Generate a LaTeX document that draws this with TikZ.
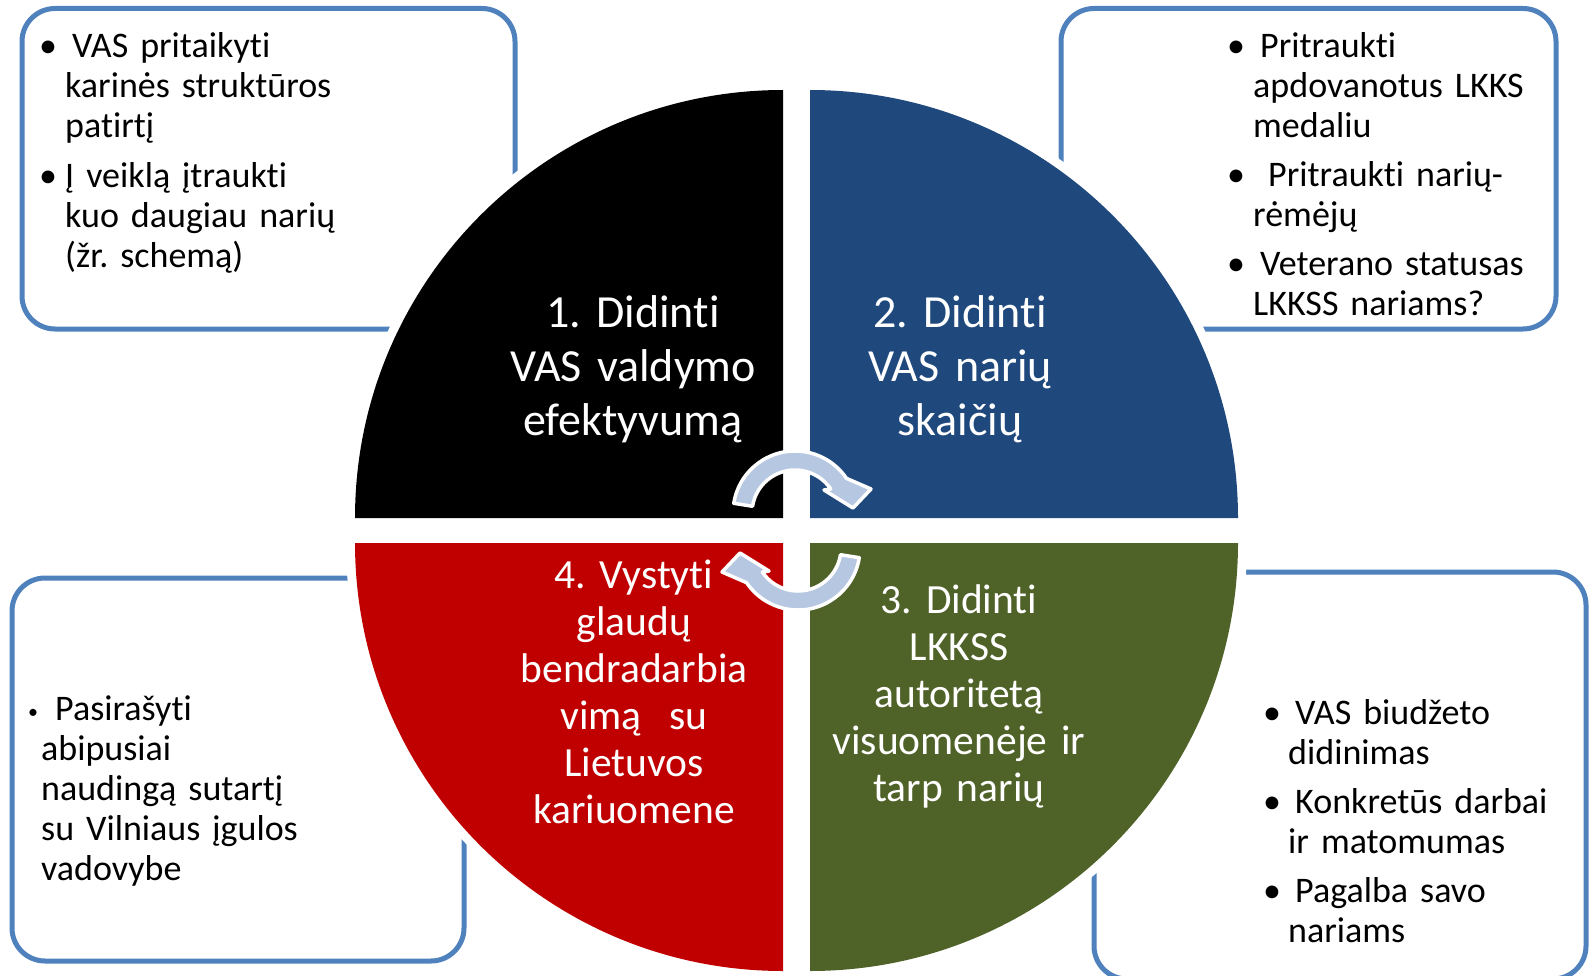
\documentclass[tikz,border=0pt]{standalone}
\usepackage{fontspec}
\setmainfont{Carlito}[Ligatures=NoCommon]
\usetikzlibrary{calc}

\definecolor{boxblue}{RGB}{79,129,189}
\definecolor{quadblue}{RGB}{31,73,125}
\definecolor{quadgreen}{RGB}{79,98,40}
\definecolor{quadred}{RGB}{192,0,0}
\definecolor{arrowblue}{RGB}{182,199,226}

% one circular arrow, around its own centre
\newcommand{\cyclearrow}{(189:62) arc[start angle=189, end angle=326, radius=62]
  -- (76,-24) -- (58,-5) -- (29,-23) -- (326:43)
  arc[start angle=326, end angle=189, radius=43] -- cycle}

\tikzset{
  infobox/.style={draw=boxblue, line width=5pt, fill=white, rounded corners=33pt},
  quad/.style={preaction={draw=white, line width=18pt}},
  quadtext/.style={text=white, align=center, anchor=base, inner sep=0pt, text width=300pt},
  bigtext/.style={quadtext, font=\fontsize{46}{54}\selectfont},
  smalltext/.style={quadtext, font=\fontsize{41.5}{47}\selectfont},
  listtext/.style={anchor=base west, inner sep=0pt, align=left, text width=#1, font=\fontsize{36}{40}\selectfont},
  bulletmark/.style={anchor=base, inner sep=0pt, font=\fontsize{36}{40}\selectfont},
  cycarrow/.style={fill=arrowblue, draw=white, line width=3.5pt, line join=round}
}

\begin{document}
\frenchspacing
\begin{tikzpicture}[x=1pt,y=-1pt]
\useasboundingbox (0,0) rectangle (1589,976);

% side boxes
\draw[infobox] (22,8.5) rectangle (515,329);
\draw[infobox] (1061,8.5) rectangle (1556,329);
\draw[infobox] (12,578) rectangle (464,961);
\draw[infobox] (1094,572) rectangle (1586,979);

% quadrants
\fill[quad, black] (783,518) -- (355,518) arc[start angle=180, end angle=270, radius=428] -- cycle;
\fill[quad, quadblue] (810,518) -- (810,90) arc[start angle=270, end angle=360, radius=428] -- cycle;
\fill[quad, quadgreen] (810,543) -- (1238,543) arc[start angle=0, end angle=90, radius=428] -- cycle;
\fill[quad, quadred] (783,543) -- (783,971) arc[start angle=90, end angle=180, radius=428] -- cycle;

% arrows in the middle
\draw[cycarrow, shift={(795,513)}] \cyclearrow;
\draw[cycarrow, shift={(798,548)}, rotate=180] \cyclearrow;

% quadrant texts
\node[bigtext] (q1) at (633,327) {1. Didinti\\VAS valdymo\\efektyvumą};
\node[bigtext] (q2) at (960,327) {2. Didinti\\VAS narių\\skaičių};
\node[smalltext] (q3) at (959,613) {3. Didinti\\LKKSS\\autoritetą\\visuomenėje ir\\tarp narių};
\node[smalltext] (q4) at (634,588) {4. Vystyti\\glaudų\\bendradarbia\\vimą\ \ su\\Lietuvos\\kariuomene};

% box texts
\node[bulletmark] (tl1b) at (48,58) {\textbullet};
\node[listtext=430pt] (tl1) at (65,58) {\hspace*{7pt}VAS pritaikyti\\karinės struktūros\\patirtį};
\node[bulletmark] (tl2b) at (48,188) {\textbullet};
\node[listtext=430pt] (tl2) at (65,188) {Į veiklą įtraukti\\kuo daugiau narių\\(žr. schemą)};

\node[bulletmark] (tr1b) at (1236,58) {\textbullet};
\node[listtext=280pt] (tr1) at (1253,58) {\hspace*{7pt}Pritraukti\\apdovanotus LKKS\\medaliu};
\node[bulletmark] (tr2b) at (1236,187) {\textbullet};
\node[listtext=280pt] (tr2) at (1253,187) {\hspace*{15pt}Pritraukti narių-\\rėmėjų};
\node[bulletmark] (tr3b) at (1236,275) {\textbullet};
\node[listtext=280pt] (tr3) at (1253,275) {\hspace*{7pt}Veterano statusas\\LKKSS nariams?};

\node[bulletmark, font=\fontsize{20}{20}\selectfont] (bl1b) at (33,718) {\textbullet};
\node[listtext=400pt] (bl1) at (41,720) {\hspace*{14pt}Pasirašyti\\abipusiai\\naudingą sutartį\\su Vilniaus įgulos\\vadovybe};

\node[bulletmark] (br1b) at (1272,724) {\textbullet};
\node[listtext=280pt] (br1) at (1288,724) {\hspace*{7pt}VAS biudžeto\\didinimas};
\node[bulletmark] (br2b) at (1272,813) {\textbullet};
\node[listtext=280pt] (br2) at (1288,813) {\hspace*{7pt}Konkretūs darbai\\ir matomumas};
\node[bulletmark] (br3b) at (1272,902) {\textbullet};
\node[listtext=280pt] (br3) at (1288,902) {\hspace*{7pt}Pagalba savo\\nariams};
\end{tikzpicture}
\end{document}
